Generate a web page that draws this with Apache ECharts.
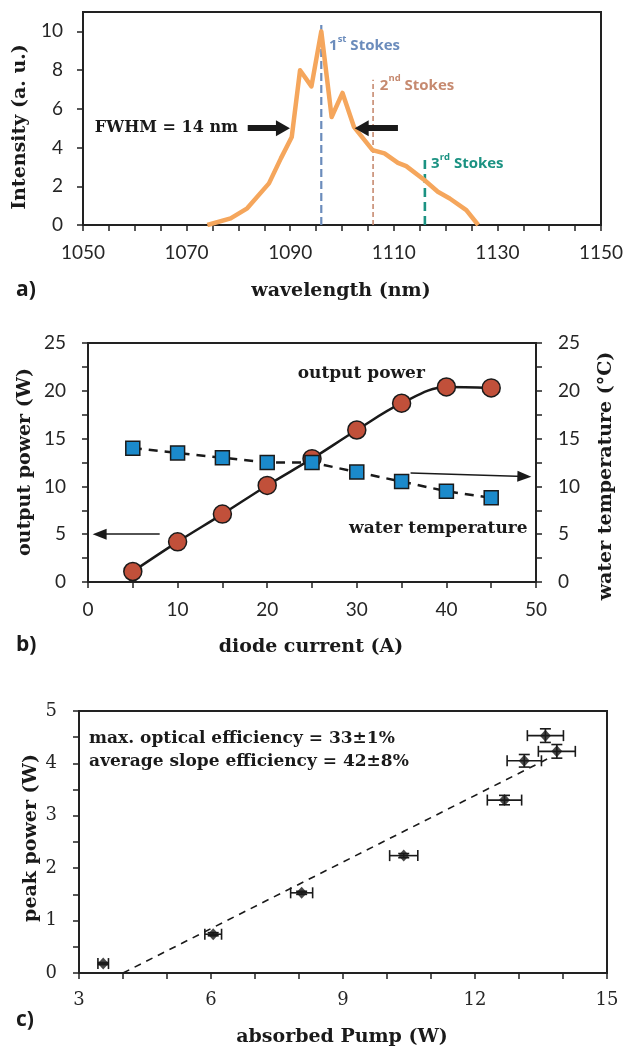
<!DOCTYPE html>
<html>
<head>
<meta charset="utf-8">
<script src="https://cdn.jsdelivr.net/npm/echarts@6/dist/echarts.min.js"></script>
<style>
html,body{margin:0;padding:0;background:#fff;}
#chart{width:627px;height:1051px;}
</style>
</head>
<body>
<div id="chart"></div>
<script>
// ---------- Panel a: spectrum ----------
const waveNm = [1074.0,1078.5,1081.7,1085.9,1088.2,1090.3,1091.9,1094.1,1096.0,1098.0,1100.1,1102.3,1105.9,1108.2,1110.8,1112.4,1115.9,1118.5,1120.8,1124.0,1126.3];
const intensity = [0,0.34,0.86,2.15,3.44,4.55,7.99,7.16,10.0,5.58,6.82,5.07,3.87,3.70,3.21,3.04,2.32,1.72,1.37,0.77,0];
const stokesNm = [1096, 1106, 1116];
const stokesTop = [10.5, 7.5, 3.6];
const stokesNames = ['1st', '2nd', '3rd'];
const waveTicks = [1050,1070,1090,1110,1130,1150];
const intensityTicks = [0,2,4,6,8,10];

// ---------- Panel b: power / temperature ----------
const current = [5,10,15,20,25,30,35,40,45];
const outputPower = [1.1,4.2,7.1,10.1,12.9,15.9,18.7,20.4,20.3];
const waterTemp = [14.0,13.5,13.0,12.5,12.5,11.5,10.5,9.5,8.8];
const currentTicks = [0,10,20,30,40,50];
const powerTicks = [0,5,10,15,20,25];

// ---------- Panel c: peak power ----------
const pump = [3.55,6.05,8.06,10.38,12.67,13.12,13.60,13.86];
const peakPower = [0.18,0.74,1.53,2.24,3.30,4.05,4.53,4.23];
const pumpErr = [0.12,0.19,0.25,0.32,0.39,0.39,0.41,0.42];
const peakErr = [0.02,0.03,0.03,0.04,0.09,0.12,0.13,0.13];
const fitPump = [4.0, 13.75];
const fitPeak = [0, 4.13];
const pumpTicks = [3,6,9,12,15];
const peakTicks = [0,1,2,3,4,5];

const AX = '#222';
const TICKC = '#262626';
const sansFont = 'Lato';
const serifFont = 'DejaVu Serif';
const plain = v => String(v);

function valAxis(o) {
  return Object.assign({
    type: 'value',
    axisLine: {show: true, onZero: false, lineStyle: {color: AX, width: 2}},
    axisTick: {show: true, length: 6, lineStyle: {color: AX, width: 1.5}},
    splitLine: {show: false},
    axisLabel: {color: TICKC, fontFamily: sansFont, fontSize: 19, margin: 20, formatter: plain}
  }, o);
}
function lab(font, margin, vals) {
  return {color: TICKC, fontFamily: font, fontSize: font === sansFont ? 19 : 18, margin: margin, customValues: vals, formatter: plain};
}

const chart = echarts.init(document.getElementById('chart'), null, {renderer: 'canvas'});

const stokesColors = ['#6B8CBC', '#C68A70', '#1B9282'];
const stokesDash = [[8,4],[5,3],[9,5]];
const stokesWidth = [2.2,1.6,2.6];

const series = [];
// spectrum
series.push({
  type: 'line', xAxisIndex: 0, yAxisIndex: 0,
  data: waveNm.map((w,i)=>[w,intensity[i]]),
  showSymbol: false, symbol: 'none',
  lineStyle: {color: '#F5A65C', width: 4.5, join: 'round'},
  z: 3,
  markLine: {
    silent: true, symbol: ['none','triangle'], symbolSize: [16,14],
    lineStyle: {color: '#1a1a1a', width: 6, type: 'solid'},
    label: {show: false},
    data: [
      [{coord: [1081.8, 5]}, {coord: [1088.6, 5]}],
      [{coord: [1110.8, 5]}, {coord: [1103.8, 5]}]
    ]
  }
});
stokesNm.forEach((w,i)=>{
  series.push({
    type: 'line', xAxisIndex: 0, yAxisIndex: 0,
    data: [[w,0],[w,stokesTop[i]]],
    symbol: 'none',
    lineStyle: {color: stokesColors[i], width: stokesWidth[i], type: stokesDash[i]},
    z: 2
  });
});
// panel b
series.push({
  type: 'line', xAxisIndex: 1, yAxisIndex: 1,
  data: current.map((c,i)=>[c,outputPower[i]]),
  smooth: 0.35,
  symbol: 'circle', symbolSize: 18,
  itemStyle: {color: '#C1503A', borderColor: '#1a1a1a', borderWidth: 1.5},
  lineStyle: {color: '#1a1a1a', width: 2.5},
  z: 4,
  markLine: {
    silent: true, symbol: ['none','triangle'], symbolSize: [11,14],
    lineStyle: {color: '#1a1a1a', width: 1.5, type: 'solid'},
    label: {show: false},
    data: [
      [{coord: [8.0, 5]}, {coord: [1.3, 5]}]
    ]
  }
});
series.push({
  type: 'line', xAxisIndex: 1, yAxisIndex: 2,
  data: current.map((c,i)=>[c,waterTemp[i]]),
  symbol: 'rect', symbolSize: 14,
  itemStyle: {color: '#1B8ACB', borderColor: '#1a1a1a', borderWidth: 1.5},
  lineStyle: {color: '#1a1a1a', width: 2.5, type: [9,7]},
  z: 5,
  markLine: {
    silent: true, symbol: ['none','triangle'], symbolSize: [11,14],
    lineStyle: {color: '#1a1a1a', width: 1.5, type: 'solid'},
    label: {show: false},
    data: [
      [{coord: [36.0, 11.4]}, {coord: [48.7, 11.03]}]
    ]
  }
});
// panel c
series.push({
  type: 'line', xAxisIndex: 2, yAxisIndex: 3,
  data: fitPump.map((x,i)=>[x,fitPeak[i]]),
  symbol: 'none',
  lineStyle: {color: '#1a1a1a', width: 1.6, type: [7,6]},
  z: 2
});
series.push({
  type: 'custom', xAxisIndex: 2, yAxisIndex: 3,
  data: pump.map((x,i)=>[x,peakPower[i],pumpErr[i],peakErr[i]]),
  renderItem: function(params, api){
    const x = api.value(0), y = api.value(1), ex = api.value(2), ey = api.value(3);
    const l = api.coord([x-ex,y]), r = api.coord([x+ex,y]);
    const t = api.coord([x,y+ey]), b = api.coord([x,y-ey]);
    const cap = 5.5;
    const st = {stroke: '#1a1a1a', lineWidth: 1.6};
    return {type: 'group', children: [
      {type:'line', shape:{x1:l[0],y1:l[1],x2:r[0],y2:r[1]}, style: st},
      {type:'line', shape:{x1:l[0],y1:l[1]-cap,x2:l[0],y2:l[1]+cap}, style: st},
      {type:'line', shape:{x1:r[0],y1:r[1]-cap,x2:r[0],y2:r[1]+cap}, style: st},
      {type:'line', shape:{x1:t[0],y1:t[1],x2:b[0],y2:b[1]}, style: st},
      {type:'line', shape:{x1:t[0]-cap,y1:t[1],x2:t[0]+cap,y2:t[1]}, style: st},
      {type:'line', shape:{x1:b[0]-cap,y1:b[1],x2:b[0]+cap,y2:b[1]}, style: st}
    ]};
  },
  z: 3
});
series.push({
  type: 'scatter', xAxisIndex: 2, yAxisIndex: 3,
  data: pump.map((x,i)=>[x,peakPower[i]]),
  symbol: 'diamond', symbolSize: [11,12],
  itemStyle: {color: '#1a1a1a'},
  z: 4
});

const option = {
  backgroundColor: '#fff',
  animation: false,
  grid: [
    {left: 83, top: 12, width: 518, height: 213, show: true, borderColor: AX, borderWidth: 2},
    {left: 88, top: 343, width: 448, height: 239, show: true, borderColor: AX, borderWidth: 2},
    {left: 79, top: 711, width: 528, height: 262, show: true, borderColor: AX, borderWidth: 2}
  ],
  xAxis: [
    valAxis({gridIndex: 0, min: 1050, max: 1150, interval: 5, axisLabel: lab(sansFont, 18, waveTicks)}),
    valAxis({gridIndex: 1, min: 0, max: 50, interval: 5, axisLabel: lab(sansFont, 18, currentTicks)}),
    valAxis({gridIndex: 2, min: 3, max: 15, interval: 1, axisLabel: lab(serifFont, 18, pumpTicks)})
  ],
  yAxis: [
    valAxis({gridIndex: 0, min: 0, max: 11, interval: 2,
      axisTick: {show: true, length: 6, lineStyle: {color: AX, width: 1.5}, customValues: intensityTicks},
      axisLabel: lab(sansFont, 20, intensityTicks)}),
    valAxis({gridIndex: 1, min: 0, max: 25, interval: 2.5, axisLabel: lab(sansFont, 22, powerTicks)}),
    valAxis({gridIndex: 1, min: 0, max: 25, interval: 2.5, position: 'right', axisLabel: lab(sansFont, 22, powerTicks)}),
    valAxis({gridIndex: 2, min: 0, max: 5, interval: 0.5, axisLabel: lab(serifFont, 22, peakTicks)})
  ],
  series: series
};
chart.setOption(option);

// ---------- text annotations ----------
function px(grid, xy) { return chart.convertToPixel({gridIndex: grid}, xy); }
const titleStyle = (t, size) => ({text: t, fontFamily: serifFont, fontWeight: 'bold', fontSize: size || 19, fill: '#1a1a1a', align: 'center', verticalAlign: 'middle'});
const g = [];
function addText(x, y, style, rot) {
  g.push({type: 'text', x: x, y: y, rotation: rot || 0, style: style, silent: true, z: 100});
}
// axis titles (layout)
addText(20, 127, titleStyle('Intensity (a. u.)'), Math.PI/2);
addText(341, 291, titleStyle('wavelength (nm)'));
addText(25, 462, titleStyle('output power (W)'), Math.PI/2);
addText(606, 476, titleStyle('water temperature (°C)'), Math.PI/2);
addText(311, 647, titleStyle('diode current (A)'));
addText(31, 838, titleStyle('peak power (W)'), Math.PI/2);
addText(342, 1037, titleStyle('absorbed Pump (W)'));
const panelStyle = t => ({text: t, fontFamily: 'Open Sans', fontWeight: 'bold', fontSize: 21, fill: '#1a1a1a', align: 'left', verticalAlign: 'middle'});
addText(16, 290, panelStyle('a)'));
addText(16, 645, panelStyle('b)'));
addText(16, 1020, panelStyle('c)'));

// data-anchored annotations
let p = px(0, [1066.1, 5.0]);
addText(p[0], p[1], titleStyle('FWHM = 14 nm', 16));
const stokesLabelPos = [[1097.5, 9.38], [1107.3, 7.32], [1117.2, 3.25]];
stokesLabelPos.forEach((pos, i) => {
  const q = px(0, pos);
  const num = stokesNames[i].charAt(0), suf = stokesNames[i].slice(1);
  const c = stokesColors[i];
  addText(q[0], q[1], {
    text: '{n|' + num + '}{s|' + suf + '}{n| Stokes}',
    align: 'left', verticalAlign: 'middle',
    rich: {
      n: {fontFamily: 'Open Sans', fontWeight: 'bold', fontSize: 15, fill: c, lineHeight: 19, verticalAlign: 'bottom'},
      s: {fontFamily: 'Open Sans', fontWeight: 'bold', fontSize: 9.5, fill: c, lineHeight: 19, verticalAlign: 'top', padding: [0,0,6,0]}
    }
  });
});
p = px(1, [30.5, 21.8]);
addText(p[0], p[1], titleStyle('output power', 17));
p = px(1, [39.1, 5.6]);
addText(p[0], p[1], titleStyle('water temperature', 17));
p = px(2, [3.23, 4.47]);
addText(p[0], p[1], Object.assign(titleStyle('max. optical efficiency = 33±1%', 17), {align: 'left'}));
p = px(2, [3.23, 4.03]);
addText(p[0], p[1], Object.assign(titleStyle('average slope efficiency = 42±8%', 17), {align: 'left'}));

chart.setOption({graphic: g});
</script>
</body>
</html>
